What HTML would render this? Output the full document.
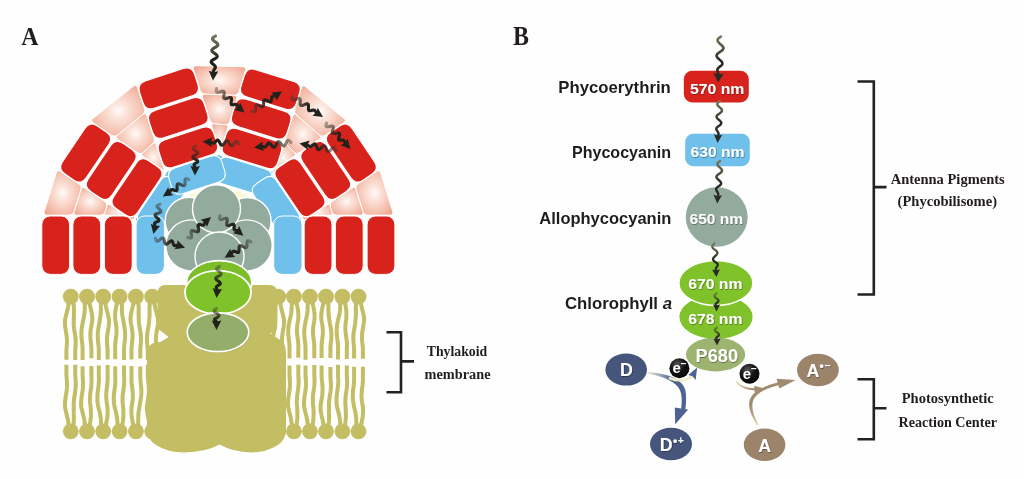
<!DOCTYPE html>
<html><head><meta charset="utf-8"><title>Phycobilisome energy transfer</title>
<style>
html,body{margin:0;padding:0;background:#fff;}
body{width:1024px;height:479px;overflow:hidden;font-family:"Liberation Sans",sans-serif;}
svg{display:block;}
</style></head><body>
<svg width="1024" height="479" viewBox="0 0 1024 479">
<defs>
<linearGradient id="g1" gradientUnits="userSpaceOnUse" x1="215.5" y1="36" x2="213" y2="80.5"><stop offset="0" stop-color="#77775f"/><stop offset=".3" stop-color="#4c4c3e"/><stop offset=".5" stop-color="#22221c"/><stop offset="1" stop-color="#22221c"/></linearGradient>
<linearGradient id="g2" gradientUnits="userSpaceOnUse" x1="216.5" y1="88.5" x2="244.5" y2="112.5"><stop offset="0" stop-color="#33332a" stop-opacity=".4"/><stop offset=".2" stop-color="#2c2c24" stop-opacity=".6"/><stop offset=".5" stop-color="#22221c"/><stop offset="1" stop-color="#22221c"/></linearGradient>
<linearGradient id="g3" gradientUnits="userSpaceOnUse" x1="251.5" y1="111" x2="282" y2="91.5"><stop offset="0" stop-color="#33332a" stop-opacity=".4"/><stop offset=".2" stop-color="#2c2c24" stop-opacity=".6"/><stop offset=".5" stop-color="#22221c"/><stop offset="1" stop-color="#22221c"/></linearGradient>
<linearGradient id="g4" gradientUnits="userSpaceOnUse" x1="292" y1="96.5" x2="323" y2="117"><stop offset="0" stop-color="#33332a" stop-opacity=".4"/><stop offset=".2" stop-color="#2c2c24" stop-opacity=".6"/><stop offset=".5" stop-color="#22221c"/><stop offset="1" stop-color="#22221c"/></linearGradient>
<linearGradient id="g5" gradientUnits="userSpaceOnUse" x1="326.5" y1="123" x2="350.5" y2="149"><stop offset="0" stop-color="#33332a" stop-opacity=".4"/><stop offset=".2" stop-color="#2c2c24" stop-opacity=".6"/><stop offset=".5" stop-color="#22221c"/><stop offset="1" stop-color="#22221c"/></linearGradient>
<linearGradient id="g6" gradientUnits="userSpaceOnUse" x1="336" y1="150.5" x2="299.5" y2="143.5"><stop offset="0" stop-color="#33332a" stop-opacity=".4"/><stop offset=".2" stop-color="#2c2c24" stop-opacity=".6"/><stop offset=".5" stop-color="#22221c"/><stop offset="1" stop-color="#22221c"/></linearGradient>
<linearGradient id="g7" gradientUnits="userSpaceOnUse" x1="291" y1="142.5" x2="254" y2="147.5"><stop offset="0" stop-color="#33332a" stop-opacity=".4"/><stop offset=".2" stop-color="#2c2c24" stop-opacity=".6"/><stop offset=".5" stop-color="#22221c"/><stop offset="1" stop-color="#22221c"/></linearGradient>
<linearGradient id="g8" gradientUnits="userSpaceOnUse" x1="239" y1="144" x2="202.5" y2="141.5"><stop offset="0" stop-color="#33332a" stop-opacity=".4"/><stop offset=".2" stop-color="#2c2c24" stop-opacity=".6"/><stop offset=".5" stop-color="#22221c"/><stop offset="1" stop-color="#22221c"/></linearGradient>
<linearGradient id="g9" gradientUnits="userSpaceOnUse" x1="195.5" y1="146" x2="195" y2="175.5"><stop offset="0" stop-color="#33332a" stop-opacity=".4"/><stop offset=".2" stop-color="#2c2c24" stop-opacity=".6"/><stop offset=".5" stop-color="#22221c"/><stop offset="1" stop-color="#22221c"/></linearGradient>
<linearGradient id="g10" gradientUnits="userSpaceOnUse" x1="189" y1="179.6" x2="162.8" y2="196.5"><stop offset="0" stop-color="#33332a" stop-opacity=".4"/><stop offset=".2" stop-color="#2c2c24" stop-opacity=".6"/><stop offset=".5" stop-color="#22221c"/><stop offset="1" stop-color="#22221c"/></linearGradient>
<linearGradient id="g11" gradientUnits="userSpaceOnUse" x1="160" y1="204.2" x2="153.4" y2="234"><stop offset="0" stop-color="#33332a" stop-opacity=".4"/><stop offset=".2" stop-color="#2c2c24" stop-opacity=".6"/><stop offset=".5" stop-color="#22221c"/><stop offset="1" stop-color="#22221c"/></linearGradient>
<linearGradient id="g12" gradientUnits="userSpaceOnUse" x1="155.4" y1="238.2" x2="185" y2="247.7"><stop offset="0" stop-color="#33332a" stop-opacity=".4"/><stop offset=".2" stop-color="#2c2c24" stop-opacity=".6"/><stop offset=".5" stop-color="#22221c"/><stop offset="1" stop-color="#22221c"/></linearGradient>
<linearGradient id="g13" gradientUnits="userSpaceOnUse" x1="187.8" y1="237.4" x2="211" y2="217"><stop offset="0" stop-color="#33332a" stop-opacity=".4"/><stop offset=".2" stop-color="#2c2c24" stop-opacity=".6"/><stop offset=".5" stop-color="#22221c"/><stop offset="1" stop-color="#22221c"/></linearGradient>
<linearGradient id="g14" gradientUnits="userSpaceOnUse" x1="219.8" y1="215.9" x2="243.4" y2="235.8"><stop offset="0" stop-color="#33332a" stop-opacity=".4"/><stop offset=".2" stop-color="#2c2c24" stop-opacity=".6"/><stop offset=".5" stop-color="#22221c"/><stop offset="1" stop-color="#22221c"/></linearGradient>
<linearGradient id="g15" gradientUnits="userSpaceOnUse" x1="251" y1="241.8" x2="224.6" y2="257.8"><stop offset="0" stop-color="#33332a" stop-opacity=".4"/><stop offset=".2" stop-color="#2c2c24" stop-opacity=".6"/><stop offset=".5" stop-color="#22221c"/><stop offset="1" stop-color="#22221c"/></linearGradient>
<linearGradient id="g16" gradientUnits="userSpaceOnUse" x1="219.3" y1="266.5" x2="216.5" y2="298"><stop offset="0" stop-color="#33332a" stop-opacity=".4"/><stop offset=".2" stop-color="#2c2c24" stop-opacity=".6"/><stop offset=".5" stop-color="#22221c"/><stop offset="1" stop-color="#22221c"/></linearGradient>
<linearGradient id="g17" gradientUnits="userSpaceOnUse" x1="216.5" y1="308.5" x2="216.5" y2="330"><stop offset="0" stop-color="#33332a" stop-opacity=".4"/><stop offset=".2" stop-color="#2c2c24" stop-opacity=".6"/><stop offset=".5" stop-color="#22221c"/><stop offset="1" stop-color="#22221c"/></linearGradient>
<linearGradient id="gb" gradientUnits="userSpaceOnUse" x1="647" y1="0" x2="672" y2="0"><stop offset="0" stop-color="#e9e7cf"/><stop offset=".45" stop-color="#a9b3bd"/><stop offset="1" stop-color="#4d6494"/></linearGradient>
<linearGradient id="gt" gradientUnits="userSpaceOnUse" x1="0" y1="427" x2="0" y2="404"><stop offset="0" stop-color="#e6dcb4"/><stop offset=".5" stop-color="#b8a683"/><stop offset="1" stop-color="#a08a70"/></linearGradient>
<linearGradient id="gt2" gradientUnits="userSpaceOnUse" x1="736" y1="0" x2="754" y2="0"><stop offset="0" stop-color="#e6dcb4"/><stop offset=".6" stop-color="#b29f7e"/><stop offset="1" stop-color="#a08a70"/></linearGradient>
<radialGradient id="eg" cx=".4" cy=".3" r=".75"><stop offset="0" stop-color="#5a5a5a"/><stop offset=".45" stop-color="#161616"/><stop offset="1" stop-color="#000"/></radialGradient>
<linearGradient id="g18" gradientUnits="userSpaceOnUse" x1="721" y1="36.5" x2="718" y2="82.6"><stop offset="0" stop-color="#77775f"/><stop offset=".3" stop-color="#4c4c3e"/><stop offset=".5" stop-color="#2b2b24"/><stop offset="1" stop-color="#2b2b24"/></linearGradient>
<linearGradient id="g19" gradientUnits="userSpaceOnUse" x1="720" y1="101" x2="717.6" y2="143"><stop offset="0" stop-color="#77775f"/><stop offset=".3" stop-color="#4c4c3e"/><stop offset=".5" stop-color="#2b2b24"/><stop offset="1" stop-color="#2b2b24"/></linearGradient>
<linearGradient id="g20" gradientUnits="userSpaceOnUse" x1="720.1" y1="161" x2="717.2" y2="203.4"><stop offset="0" stop-color="#77775f"/><stop offset=".3" stop-color="#4c4c3e"/><stop offset=".5" stop-color="#2b2b24"/><stop offset="1" stop-color="#2b2b24"/></linearGradient>
<linearGradient id="g21" gradientUnits="userSpaceOnUse" x1="714.5" y1="243.5" x2="716.4" y2="277"><stop offset="0" stop-color="#77775f"/><stop offset=".3" stop-color="#4c4c3e"/><stop offset=".5" stop-color="#2b2b24"/><stop offset="1" stop-color="#2b2b24"/></linearGradient>
<linearGradient id="g22" gradientUnits="userSpaceOnUse" x1="716.5" y1="293.5" x2="716.5" y2="311.5"><stop offset="0" stop-color="#33332a" stop-opacity=".4"/><stop offset=".2" stop-color="#2c2c24" stop-opacity=".6"/><stop offset=".5" stop-color="#2b2b24"/><stop offset="1" stop-color="#2b2b24"/></linearGradient>
<linearGradient id="g23" gradientUnits="userSpaceOnUse" x1="717" y1="327.5" x2="717" y2="345.5"><stop offset="0" stop-color="#33332a" stop-opacity=".4"/><stop offset=".2" stop-color="#2c2c24" stop-opacity=".6"/><stop offset=".5" stop-color="#2b2b24"/><stop offset="1" stop-color="#2b2b24"/></linearGradient>
<radialGradient id="pk" cx=".5" cy=".5" r=".62"><stop offset="0" stop-color="#fffaf7"/><stop offset=".3" stop-color="#fbe0d6"/><stop offset=".7" stop-color="#f5c2b1"/><stop offset="1" stop-color="#f0a892"/></radialGradient>
<filter id="ts" x="-10%" y="-20%" width="120%" height="150%"><feDropShadow dx=".6" dy=".8" stdDeviation=".7" flood-color="#000" flood-opacity=".45"/></filter>
<filter id="bl" x="-5%" y="-5%" width="110%" height="110%"><feGaussianBlur stdDeviation=".55"/></filter>
</defs>
<rect width="1024" height="479" fill="#fefefe"/>
<g filter="url(#bl)">
<g id="membrane">
<circle cx="70.8" cy="296.6" r="7.9" fill="#c3bd63"/>
<path d="M68.8 300L68.68 302.13L68.48 304.27L68.17 306.4L67.76 308.54L67.26 310.67L66.71 312.8L66.14 314.94L65.6 317.07L65.13 319.21L64.94 321.34L64.95 323.47L65.09 325.61L65.34 327.74L65.66 329.88L66.02 332.01L66.36 334.14L66.66 336.28L66.86 338.41L66.96 340.55L66.95 342.68L66.84 344.81L66.67 346.95L66.47 349.08L66.4 351.22L66.4 353.35L66.4 355.48L66.4 357.62L66.4 359.75" fill="none" stroke="#c3bd63" stroke-width="4" stroke-linejoin="round"/>
<path d="M72.8 300L73.21 302.14L73.55 304.28L73.79 306.42L73.92 308.56L73.96 310.7L73.93 312.84L73.86 314.98L73.82 317.12L73.82 319.26L73.75 321.4L73.72 323.55L73.8 325.69L74.01 327.83L74.3 329.97L74.64 332.11L74.99 334.25L75.3 336.39L75.54 338.53L75.67 340.67L75.69 342.81L75.62 344.95L75.46 347.09L75.27 349.23L75.2 351.37L75.2 353.51L75.2 355.65L75.2 357.79L75.2 359.93" fill="none" stroke="#c3bd63" stroke-width="4" stroke-linejoin="round"/>
<circle cx="70.8" cy="431.3" r="7.9" fill="#c3bd63"/>
<path d="M68.8 428L68.67 425.74L68.45 423.49L68.13 421.23L67.7 418.98L67.19 416.72L66.64 414.46L66.07 412.21L65.55 409.95L65.11 407.7L64.94 405.44L64.99 403.18L65.15 400.93L65.42 398.67L65.76 396.42L66.12 394.16L66.46 391.9L66.74 389.65L66.93 387.39L67.01 385.14L66.97 382.88L66.85 380.63L66.67 378.37L66.46 376.11L66.4 373.86L66.4 371.6L66.4 369.35L66.4 367.09L66.4 364.83" fill="none" stroke="#c3bd63" stroke-width="4" stroke-linejoin="round"/>
<path d="M72.8 428L73.2 425.74L73.51 423.48L73.72 421.23L73.82 418.97L73.84 416.71L73.8 414.45L73.75 412.2L73.72 409.94L73.76 407.68L73.74 405.42L73.75 403.17L73.88 400.91L74.13 398.65L74.45 396.39L74.8 394.14L75.15 391.88L75.44 389.62L75.65 387.36L75.75 385.1L75.75 382.85L75.64 380.59L75.47 378.33L75.27 376.07L75.2 373.82L75.2 371.56L75.2 369.3L75.2 367.04L75.2 364.79" fill="none" stroke="#c3bd63" stroke-width="4" stroke-linejoin="round"/>
<circle cx="87" cy="296.6" r="7.9" fill="#c3bd63"/>
<path d="M85 300L84.85 302.14L84.78 304.28L84.75 306.42L84.72 308.56L84.65 310.69L84.49 312.83L84.23 314.97L83.84 317.11L83.35 319.25L82.94 321.39L82.56 323.53L82.18 325.67L81.84 327.81L81.58 329.95L81.42 332.08L81.39 334.22L81.47 336.36L81.65 338.5L81.88 340.64L82.14 342.78L82.36 344.92L82.53 347.06L82.6 349.2L82.6 351.34L82.6 353.47L82.6 355.61L82.6 357.75L82.6 359.89" fill="none" stroke="#c3bd63" stroke-width="4" stroke-linejoin="round"/>
<path d="M89 300L89.3 302.08L89.7 304.16L90.17 306.24L90.68 308.31L91.18 310.39L91.63 312.47L91.99 314.55L92.24 316.63L92.37 318.71L92.22 320.79L91.89 322.86L91.52 324.94L91.13 327.02L90.79 329.1L90.53 331.18L90.38 333.26L90.34 335.33L90.42 337.41L90.58 339.49L90.8 341.57L91.04 343.65L91.24 345.73L91.38 347.81L91.4 349.88L91.4 351.96L91.4 354.04L91.4 356.12L91.4 358.2" fill="none" stroke="#c3bd63" stroke-width="4" stroke-linejoin="round"/>
<circle cx="87" cy="431.3" r="7.9" fill="#c3bd63"/>
<path d="M85 428L84.91 425.79L84.76 423.58L84.51 421.37L84.15 419.16L83.69 416.95L83.15 414.74L82.57 412.54L82 410.33L81.46 408.12L81.18 405.91L81.11 403.7L81.15 401.49L81.32 399.28L81.58 397.07L81.91 394.86L82.26 392.65L82.58 390.44L82.83 388.23L82.99 386.03L83.05 383.82L82.99 381.61L82.86 379.4L82.67 377.19L82.6 374.98L82.6 372.77L82.6 370.56L82.6 368.35L82.6 366.14" fill="none" stroke="#c3bd63" stroke-width="4" stroke-linejoin="round"/>
<path d="M89 428L89.46 425.79L89.91 423.57L90.31 421.36L90.63 419.15L90.84 416.93L90.94 414.72L90.94 412.51L90.88 410.29L90.77 408.08L90.51 405.87L90.22 403.65L90.02 401.44L89.94 399.23L89.98 397.01L90.14 394.8L90.39 392.59L90.69 390.37L91 388.16L91.26 385.95L91.46 383.73L91.56 381.52L91.55 379.31L91.45 377.09L91.4 374.88L91.4 372.67L91.4 370.45L91.4 368.24L91.4 366.03" fill="none" stroke="#c3bd63" stroke-width="4" stroke-linejoin="round"/>
<circle cx="103.2" cy="296.6" r="7.9" fill="#c3bd63"/>
<path d="M101.2 300L101 302.14L100.88 304.29L100.84 306.43L100.83 308.57L100.81 310.71L100.74 312.86L100.58 315L100.3 317.14L99.91 319.28L99.57 321.43L99.24 323.57L98.86 325.71L98.48 327.85L98.15 330L97.89 332.14L97.75 334.28L97.73 336.42L97.82 338.57L97.99 340.71L98.21 342.85L98.45 344.99L98.65 347.14L98.78 349.28L98.8 351.42L98.8 353.57L98.8 355.71L98.8 357.85L98.8 359.99" fill="none" stroke="#c3bd63" stroke-width="4" stroke-linejoin="round"/>
<path d="M105.2 300L105.34 302.12L105.58 304.25L105.93 306.37L106.37 308.49L106.88 310.61L107.44 312.74L107.99 314.86L108.49 316.98L108.91 319.1L109.04 321.23L108.97 323.35L108.77 325.47L108.48 327.59L108.13 329.72L107.77 331.84L107.43 333.96L107.17 336.08L107 338.21L106.95 340.33L107 342.45L107.14 344.58L107.33 346.7L107.54 348.82L107.6 350.94L107.6 353.07L107.6 355.19L107.6 357.31L107.6 359.43" fill="none" stroke="#c3bd63" stroke-width="4" stroke-linejoin="round"/>
<circle cx="103.2" cy="431.3" r="7.9" fill="#c3bd63"/>
<path d="M101.2 428L101.14 425.76L101.08 423.53L100.99 421.29L100.83 419.06L100.56 416.82L100.18 414.59L99.7 412.35L99.13 410.12L98.52 407.88L98.07 405.65L97.75 403.41L97.51 401.18L97.38 398.94L97.37 396.7L97.49 394.47L97.7 392.23L97.98 390L98.28 387.76L98.56 385.53L98.78 383.29L98.9 381.06L98.92 378.82L98.85 376.59L98.8 374.35L98.8 372.12L98.8 369.88L98.8 367.64L98.8 365.41" fill="none" stroke="#c3bd63" stroke-width="4" stroke-linejoin="round"/>
<path d="M105.2 428L105.63 425.75L106.1 423.51L106.56 421.26L106.97 419.02L107.3 416.77L107.51 414.52L107.61 412.28L107.61 410.03L107.53 407.79L107.25 405.54L106.88 403.3L106.57 401.05L106.34 398.8L106.23 396.56L106.25 394.31L106.38 392.07L106.6 389.82L106.87 387.57L107.15 385.33L107.4 383.08L107.57 380.84L107.65 378.59L107.63 376.35L107.6 374.1L107.6 371.85L107.6 369.61L107.6 367.36L107.6 365.12" fill="none" stroke="#c3bd63" stroke-width="4" stroke-linejoin="round"/>
<circle cx="119.6" cy="296.6" r="7.9" fill="#c3bd63"/>
<path d="M117.6 300L117.17 302.12L116.71 304.23L116.24 306.35L115.82 308.46L115.48 310.58L115.25 312.7L115.13 314.81L115.12 316.93L115.19 319.04L115.47 321.16L115.84 323.27L116.17 325.39L116.41 327.51L116.54 329.62L116.55 331.74L116.43 333.85L116.23 335.97L115.97 338.09L115.69 340.2L115.44 342.32L115.25 344.43L115.16 346.55L115.17 348.66L115.2 350.78L115.2 352.9L115.2 355.01L115.2 357.13L115.2 359.24" fill="none" stroke="#c3bd63" stroke-width="4" stroke-linejoin="round"/>
<path d="M121.6 300L121.77 302.14L121.86 304.28L121.9 306.42L121.91 308.57L121.96 310.71L122.07 312.85L122.28 314.99L122.61 317.13L123.06 319.27L123.43 321.41L123.79 323.55L124.18 325.7L124.54 327.84L124.85 329.98L125.05 332.12L125.14 334.26L125.11 336.4L124.98 338.54L124.78 340.68L124.53 342.83L124.3 344.97L124.11 347.11L124.01 349.25L124 351.39L124 353.53L124 355.67L124 357.81L124 359.96" fill="none" stroke="#c3bd63" stroke-width="4" stroke-linejoin="round"/>
<circle cx="119.6" cy="431.3" r="7.9" fill="#c3bd63"/>
<path d="M117.6 428L117.54 425.8L117.48 423.59L117.38 421.39L117.2 419.18L116.92 416.98L116.52 414.77L116.02 412.57L115.45 410.36L114.83 408.16L114.39 405.95L114.08 403.75L113.86 401.54L113.76 399.34L113.78 397.13L113.91 394.93L114.14 392.72L114.43 390.52L114.74 388.31L115.01 386.11L115.22 383.9L115.33 381.7L115.34 379.49L115.25 377.29L115.2 375.08L115.2 372.88L115.2 370.67L115.2 368.47L115.2 366.26" fill="none" stroke="#c3bd63" stroke-width="4" stroke-linejoin="round"/>
<path d="M121.6 428L122.06 425.77L122.5 423.53L122.88 421.3L123.16 419.06L123.34 416.83L123.42 414.59L123.4 412.36L123.32 410.12L123.22 407.89L122.97 405.65L122.72 403.42L122.56 401.18L122.52 398.95L122.61 396.71L122.81 394.48L123.09 392.24L123.4 390.01L123.71 387.77L123.97 385.54L124.14 383.3L124.21 381.07L124.18 378.83L124.06 376.6L124 374.36L124 372.13L124 369.89L124 367.66L124 365.42" fill="none" stroke="#c3bd63" stroke-width="4" stroke-linejoin="round"/>
<circle cx="135.9" cy="296.6" r="7.9" fill="#c3bd63"/>
<path d="M133.9 300L133.61 302.12L133.21 304.24L132.75 306.37L132.24 308.49L131.74 310.61L131.28 312.73L130.9 314.85L130.64 316.97L130.5 319.1L130.64 321.22L130.96 323.34L131.33 325.46L131.71 327.58L132.06 329.71L132.33 331.83L132.49 333.95L132.54 336.07L132.48 338.19L132.32 340.31L132.1 342.44L131.87 344.56L131.67 346.68L131.53 348.8L131.5 350.92L131.5 353.05L131.5 355.17L131.5 357.29L131.5 359.41" fill="none" stroke="#c3bd63" stroke-width="4" stroke-linejoin="round"/>
<path d="M137.9 300L138.25 302.09L138.5 304.18L138.65 306.27L138.7 308.36L138.69 310.45L138.65 312.53L138.63 314.62L138.67 316.71L138.81 318.8L138.89 320.89L139.02 322.98L139.25 325.07L139.57 327.16L139.94 329.25L140.3 331.34L140.62 333.42L140.86 335.51L140.99 337.6L141.01 339.69L140.93 341.78L140.76 343.87L140.56 345.96L140.36 348.05L140.3 350.14L140.3 352.23L140.3 354.31L140.3 356.4L140.3 358.49" fill="none" stroke="#c3bd63" stroke-width="4" stroke-linejoin="round"/>
<circle cx="135.9" cy="431.3" r="7.9" fill="#c3bd63"/>
<path d="M133.9 428L133.47 425.78L133 423.56L132.54 421.35L132.12 419.13L131.78 416.91L131.55 414.69L131.43 412.48L131.42 410.26L131.5 408.04L131.78 405.82L132.15 403.61L132.48 401.39L132.72 399.17L132.84 396.95L132.85 394.74L132.73 392.52L132.53 390.3L132.26 388.08L131.98 385.87L131.73 383.65L131.55 381.43L131.46 379.21L131.47 377L131.5 374.78L131.5 372.56L131.5 370.34L131.5 368.13L131.5 365.91" fill="none" stroke="#c3bd63" stroke-width="4" stroke-linejoin="round"/>
<path d="M137.9 428L138.1 425.8L138.2 423.6L138.24 421.4L138.25 419.2L138.28 417L138.36 414.8L138.54 412.59L138.83 410.39L139.24 408.19L139.59 405.99L139.93 403.79L140.31 401.59L140.68 399.39L141.01 397.19L141.25 394.99L141.38 392.79L141.39 390.59L141.29 388.39L141.1 386.18L140.87 383.98L140.64 381.78L140.44 379.58L140.32 377.38L140.3 375.18L140.3 372.98L140.3 370.78L140.3 368.58L140.3 366.38" fill="none" stroke="#c3bd63" stroke-width="4" stroke-linejoin="round"/>
<circle cx="152.2" cy="296.6" r="7.9" fill="#c3bd63"/>
<path d="M150.2 300L149.89 302.14L149.69 304.27L149.59 306.41L149.56 308.55L149.58 310.68L149.6 312.82L149.57 314.96L149.46 317.09L149.25 319.23L149.08 321.37L148.88 323.5L148.58 325.64L148.22 327.78L147.84 329.91L147.49 332.05L147.21 334.19L147.03 336.32L146.97 338.46L147.01 340.6L147.15 342.73L147.35 344.87L147.56 347.01L147.75 349.14L147.8 351.28L147.8 353.42L147.8 355.55L147.8 357.69L147.8 359.83" fill="none" stroke="#c3bd63" stroke-width="4" stroke-linejoin="round"/>
<path d="M154.2 300L154.35 302.08L154.59 304.17L154.94 306.25L155.39 308.34L155.91 310.42L156.46 312.51L157.01 314.59L157.51 316.67L157.92 318.76L158.04 320.84L157.95 322.93L157.74 325.01L157.44 327.1L157.09 329.18L156.72 331.26L156.39 333.35L156.13 335.43L155.98 337.52L155.93 339.6L155.99 341.68L156.14 343.77L156.33 345.85L156.54 347.94L156.6 350.02L156.6 352.11L156.6 354.19L156.6 356.27L156.6 358.36" fill="none" stroke="#c3bd63" stroke-width="4" stroke-linejoin="round"/>
<circle cx="152.2" cy="431.3" r="7.9" fill="#c3bd63"/>
<path d="M150.2 428L149.89 425.74L149.49 423.49L149.02 421.23L148.51 418.97L148.02 416.71L147.57 414.46L147.22 412.2L146.98 409.94L146.85 407.68L147.01 405.43L147.35 403.17L147.72 400.91L148.1 398.65L148.44 396.4L148.69 394.14L148.84 391.88L148.87 389.62L148.78 387.37L148.61 385.11L148.39 382.85L148.15 380.59L147.95 378.34L147.82 376.08L147.8 373.82L147.8 371.56L147.8 369.31L147.8 367.05L147.8 364.79" fill="none" stroke="#c3bd63" stroke-width="4" stroke-linejoin="round"/>
<path d="M154.2 428L154.43 425.8L154.56 423.6L154.61 421.41L154.62 419.21L154.62 417.01L154.67 414.81L154.79 412.61L155.03 410.42L155.38 408.22L155.68 406.02L155.99 403.82L156.35 401.63L156.74 399.43L157.09 397.23L157.37 395.03L157.55 392.83L157.62 390.64L157.57 388.44L157.42 386.24L157.22 384.04L156.99 381.84L156.78 379.65L156.63 377.45L156.6 375.25L156.6 373.05L156.6 370.85L156.6 368.66L156.6 366.46" fill="none" stroke="#c3bd63" stroke-width="4" stroke-linejoin="round"/>
<circle cx="278.2" cy="296.6" r="7.9" fill="#c3bd63"/>
<path d="M276.2 300L275.84 302.12L275.58 304.24L275.42 306.36L275.35 308.48L275.36 310.6L275.4 312.72L275.43 314.84L275.4 316.97L275.29 319.09L275.23 321.21L275.13 323.33L274.92 325.45L274.61 327.57L274.26 329.69L273.89 331.81L273.56 333.93L273.31 336.05L273.16 338.17L273.12 340.29L273.19 342.41L273.34 344.53L273.54 346.65L273.74 348.78L273.8 350.9L273.8 353.02L273.8 355.14L273.8 357.26L273.8 359.38" fill="none" stroke="#c3bd63" stroke-width="4" stroke-linejoin="round"/>
<path d="M280.2 300L280.33 302.1L280.55 304.2L280.88 306.29L281.3 308.39L281.81 310.49L282.37 312.59L282.93 314.68L283.45 316.78L283.9 318.88L284.06 320.98L284.01 323.07L283.84 325.17L283.57 327.27L283.24 329.37L282.88 331.46L282.53 333.56L282.25 335.66L282.07 337.76L281.99 339.85L282.02 341.95L282.15 344.05L282.33 346.15L282.54 348.24L282.6 350.34L282.6 352.44L282.6 354.54L282.6 356.64L282.6 358.73" fill="none" stroke="#c3bd63" stroke-width="4" stroke-linejoin="round"/>
<circle cx="278.2" cy="431.3" r="7.9" fill="#c3bd63"/>
<path d="M276.2 428L275.87 425.81L275.45 423.62L274.97 421.42L274.47 419.23L273.99 417.04L273.58 414.85L273.27 412.66L273.07 410.47L272.99 408.27L273.19 406.08L273.54 403.89L273.93 401.7L274.3 399.51L274.61 397.32L274.82 395.12L274.92 392.93L274.91 390.74L274.79 388.55L274.58 386.36L274.35 384.17L274.11 381.97L273.92 379.78L273.81 377.59L273.8 375.4L273.8 373.21L273.8 371.02L273.8 368.82L273.8 366.63" fill="none" stroke="#c3bd63" stroke-width="4" stroke-linejoin="round"/>
<path d="M280.2 428L280.45 425.78L280.59 423.56L280.65 421.33L280.66 419.11L280.66 416.89L280.69 414.67L280.79 412.45L280.99 410.23L281.31 408L281.58 405.78L281.87 403.56L282.23 401.34L282.61 399.12L282.97 396.9L283.27 394.67L283.48 392.45L283.57 390.23L283.55 388.01L283.43 385.79L283.23 383.56L283.01 381.34L282.79 379.12L282.64 376.9L282.6 374.68L282.6 372.46L282.6 370.23L282.6 368.01L282.6 365.79" fill="none" stroke="#c3bd63" stroke-width="4" stroke-linejoin="round"/>
<circle cx="293.9" cy="296.6" r="7.9" fill="#c3bd63"/>
<path d="M291.9 300L291.79 302.09L291.73 304.18L291.7 306.27L291.64 308.36L291.52 310.44L291.3 312.53L290.97 314.62L290.52 316.71L289.97 318.8L289.53 320.89L289.15 322.98L288.79 325.07L288.49 327.15L288.29 329.24L288.21 331.33L288.25 333.42L288.4 335.51L288.62 337.6L288.88 339.69L289.14 341.78L289.35 343.86L289.48 345.95L289.51 348.04L289.5 350.13L289.5 352.22L289.5 354.31L289.5 356.4L289.5 358.49" fill="none" stroke="#c3bd63" stroke-width="4" stroke-linejoin="round"/>
<path d="M295.9 300L296.33 302.06L296.8 304.13L297.26 306.19L297.68 308.26L298.02 310.32L298.25 312.39L298.37 314.45L298.38 316.52L298.31 318.58L298.02 320.65L297.65 322.71L297.33 324.78L297.09 326.84L296.96 328.91L296.95 330.97L297.07 333.04L297.27 335.1L297.53 337.17L297.81 339.23L298.06 341.3L298.25 343.36L298.34 345.43L298.33 347.49L298.3 349.56L298.3 351.62L298.3 353.69L298.3 355.75L298.3 357.82" fill="none" stroke="#c3bd63" stroke-width="4" stroke-linejoin="round"/>
<circle cx="293.9" cy="431.3" r="7.9" fill="#c3bd63"/>
<path d="M291.9 428L291.81 425.77L291.65 423.54L291.39 421.31L291.02 419.08L290.56 416.85L290.02 414.63L289.44 412.4L288.87 410.17L288.34 407.94L288.07 405.71L288.01 403.48L288.07 401.25L288.24 399.02L288.52 396.79L288.85 394.56L289.2 392.34L289.52 390.11L289.76 387.88L289.92 385.65L289.96 383.42L289.9 381.19L289.76 378.96L289.57 376.73L289.5 374.5L289.5 372.27L289.5 370.05L289.5 367.82L289.5 365.59" fill="none" stroke="#c3bd63" stroke-width="4" stroke-linejoin="round"/>
<path d="M295.9 428L296.35 425.74L296.74 423.48L297.05 421.22L297.26 418.96L297.36 416.71L297.37 414.45L297.31 412.19L297.23 409.93L297.17 407.67L297 405.41L296.84 403.15L296.8 400.89L296.89 398.63L297.09 396.38L297.38 394.12L297.71 391.86L298.04 389.6L298.32 387.34L298.53 385.08L298.63 382.82L298.63 380.56L298.53 378.31L298.37 376.05L298.3 373.79L298.3 371.53L298.3 369.27L298.3 367.01L298.3 364.75" fill="none" stroke="#c3bd63" stroke-width="4" stroke-linejoin="round"/>
<circle cx="309.9" cy="296.6" r="7.9" fill="#c3bd63"/>
<path d="M307.9 300L307.78 302.14L307.72 304.27L307.69 306.41L307.64 308.55L307.53 310.68L307.33 312.82L307.02 314.96L306.59 317.09L306.05 319.23L305.62 321.37L305.24 323.5L304.87 325.64L304.56 327.78L304.34 329.92L304.24 332.05L304.25 334.19L304.38 336.33L304.6 338.46L304.85 340.6L305.11 342.74L305.33 344.87L305.47 347.01L305.51 349.15L305.5 351.28L305.5 353.42L305.5 355.56L305.5 357.69L305.5 359.83" fill="none" stroke="#c3bd63" stroke-width="4" stroke-linejoin="round"/>
<path d="M311.9 300L312.3 302.08L312.77 304.17L313.25 306.25L313.7 308.33L314.08 310.42L314.37 312.5L314.55 314.58L314.61 316.67L314.57 318.75L314.3 320.83L313.92 322.92L313.56 325L313.27 327.08L313.07 329.17L313 331.25L313.05 333.33L313.2 335.42L313.43 337.5L313.7 339.58L313.96 341.67L314.16 343.75L314.29 345.83L314.31 347.92L314.3 350L314.3 352.08L314.3 354.17L314.3 356.25L314.3 358.33" fill="none" stroke="#c3bd63" stroke-width="4" stroke-linejoin="round"/>
<circle cx="309.9" cy="431.3" r="7.9" fill="#c3bd63"/>
<path d="M307.9 428L307.81 425.77L307.64 423.54L307.38 421.31L307.01 419.09L306.54 416.86L306 414.63L305.42 412.4L304.85 410.17L304.33 407.94L304.07 405.71L304.01 403.49L304.08 401.26L304.26 399.03L304.54 396.8L304.87 394.57L305.22 392.34L305.54 390.11L305.79 387.89L305.93 385.66L305.97 383.43L305.91 381.2L305.76 378.97L305.57 376.74L305.5 374.51L305.5 372.28L305.5 370.06L305.5 367.83L305.5 365.6" fill="none" stroke="#c3bd63" stroke-width="4" stroke-linejoin="round"/>
<path d="M311.9 428L312.36 425.75L312.79 423.49L313.15 421.24L313.42 418.98L313.57 416.73L313.62 414.48L313.59 412.22L313.51 409.97L313.41 407.71L313.19 405.46L312.95 403.2L312.83 400.95L312.83 398.7L312.95 396.44L313.17 394.19L313.47 391.93L313.79 389.68L314.09 387.43L314.34 385.17L314.49 382.92L314.55 380.66L314.5 378.41L314.36 376.16L314.3 373.9L314.3 371.65L314.3 369.39L314.3 367.14L314.3 364.89" fill="none" stroke="#c3bd63" stroke-width="4" stroke-linejoin="round"/>
<circle cx="326" cy="296.6" r="7.9" fill="#c3bd63"/>
<path d="M324 300L323.6 302.07L323.14 304.15L322.66 306.22L322.2 308.3L321.81 310.37L321.51 312.44L321.33 314.52L321.26 316.59L321.3 318.66L321.57 320.74L321.95 322.81L322.31 324.89L322.61 326.96L322.81 329.03L322.89 331.11L322.85 333.18L322.7 335.26L322.48 337.33L322.22 339.4L321.96 341.48L321.75 343.55L321.62 345.63L321.59 347.7L321.6 349.77L321.6 351.85L321.6 353.92L321.6 355.99L321.6 358.07" fill="none" stroke="#c3bd63" stroke-width="4" stroke-linejoin="round"/>
<path d="M328 300L328.23 302.08L328.36 304.15L328.41 306.23L328.42 308.3L328.42 310.38L328.47 312.45L328.6 314.53L328.83 316.6L329.19 318.68L329.49 320.75L329.8 322.83L330.17 324.91L330.55 326.98L330.9 329.06L331.18 331.13L331.36 333.21L331.42 335.28L331.37 337.36L331.22 339.43L331.01 341.51L330.78 343.58L330.58 345.66L330.43 347.74L330.4 349.81L330.4 351.89L330.4 353.96L330.4 356.04L330.4 358.11" fill="none" stroke="#c3bd63" stroke-width="4" stroke-linejoin="round"/>
<circle cx="326" cy="431.3" r="7.9" fill="#c3bd63"/>
<path d="M324 428L323.73 425.77L323.36 423.54L322.9 421.31L322.4 419.08L321.88 416.84L321.4 414.61L320.99 412.38L320.68 410.15L320.5 407.92L320.6 405.69L320.89 403.46L321.25 401.23L321.64 398.99L322 396.76L322.3 394.53L322.5 392.3L322.58 390.07L322.55 387.84L322.43 385.61L322.23 383.38L322 381.14L321.79 378.91L321.63 376.68L321.6 374.45L321.6 372.22L321.6 369.99L321.6 367.76L321.6 365.53" fill="none" stroke="#c3bd63" stroke-width="4" stroke-linejoin="round"/>
<path d="M328 428L328.4 425.82L328.72 423.64L328.94 421.45L329.06 419.27L329.08 417.09L329.04 414.91L328.98 412.73L328.95 410.54L328.98 408.36L328.94 406.18L328.94 404L329.06 401.82L329.29 399.63L329.6 397.45L329.95 395.27L330.3 393.09L330.6 390.91L330.82 388.72L330.93 386.54L330.93 384.36L330.83 382.18L330.67 380L330.47 377.81L330.4 375.63L330.4 373.45L330.4 371.27L330.4 369.08L330.4 366.9" fill="none" stroke="#c3bd63" stroke-width="4" stroke-linejoin="round"/>
<circle cx="342.4" cy="296.6" r="7.9" fill="#c3bd63"/>
<path d="M340.4 300L340.31 302.13L340.26 304.25L340.22 306.38L340.13 308.51L339.95 310.64L339.68 312.76L339.28 314.89L338.78 317.02L338.2 319.15L337.74 321.27L337.37 323.4L337.04 325.53L336.8 327.66L336.67 329.78L336.66 331.91L336.76 334.04L336.96 336.17L337.23 338.29L337.5 340.42L337.76 342.55L337.94 344.67L338.04 346.8L338.03 348.93L338 351.06L338 353.18L338 355.31L338 357.44L338 359.57" fill="none" stroke="#c3bd63" stroke-width="4" stroke-linejoin="round"/>
<path d="M344.4 300L344.86 302.11L345.31 304.21L345.72 306.32L346.05 308.43L346.28 310.53L346.39 312.64L346.41 314.75L346.34 316.85L346.24 318.96L345.97 321.07L345.67 323.17L345.45 325.28L345.35 327.39L345.38 329.49L345.52 331.6L345.75 333.71L346.05 335.81L346.35 337.92L346.62 340.03L346.83 342.13L346.94 344.24L346.94 346.35L346.85 348.45L346.8 350.56L346.8 352.66L346.8 354.77L346.8 356.88L346.8 358.98" fill="none" stroke="#c3bd63" stroke-width="4" stroke-linejoin="round"/>
<circle cx="342.4" cy="431.3" r="7.9" fill="#c3bd63"/>
<path d="M340.4 428L340.34 425.74L340.25 423.48L340.09 421.22L339.82 418.96L339.45 416.7L338.98 414.44L338.43 412.18L337.83 409.92L337.22 407.66L336.84 405.4L336.62 403.14L336.52 400.88L336.54 398.62L336.68 396.35L336.91 394.09L337.22 391.83L337.54 389.57L337.84 387.31L338.08 385.05L338.23 382.79L338.27 380.53L338.21 378.27L338.06 376.01L338 373.75L338 371.49L338 369.23L338 366.97L338 364.71" fill="none" stroke="#c3bd63" stroke-width="4" stroke-linejoin="round"/>
<path d="M344.4 428L344.85 425.77L345.24 423.54L345.56 421.31L345.77 419.08L345.87 416.85L345.87 414.62L345.82 412.39L345.73 410.16L345.67 407.93L345.5 405.7L345.34 403.47L345.3 401.24L345.39 399.01L345.59 396.77L345.87 394.54L346.2 392.31L346.53 390.08L346.82 387.85L347.03 385.62L347.13 383.39L347.13 381.16L347.03 378.93L346.86 376.7L346.8 374.47L346.8 372.24L346.8 370.01L346.8 367.78L346.8 365.55" fill="none" stroke="#c3bd63" stroke-width="4" stroke-linejoin="round"/>
<circle cx="358.5" cy="296.6" r="7.9" fill="#c3bd63"/>
<path d="M356.5 300L356.19 302.09L355.97 304.18L355.86 306.27L355.83 308.36L355.85 310.45L355.87 312.54L355.86 314.63L355.76 316.72L355.56 318.81L355.41 320.9L355.22 322.99L354.93 325.08L354.58 327.17L354.21 329.26L353.85 331.35L353.57 333.44L353.37 335.53L353.29 337.61L353.33 339.7L353.45 341.79L353.64 343.88L353.86 345.97L354.05 348.06L354.1 350.15L354.1 352.24L354.1 354.33L354.1 356.42L354.1 358.51" fill="none" stroke="#c3bd63" stroke-width="4" stroke-linejoin="round"/>
<path d="M360.5 300L360.74 302.1L361.08 304.19L361.51 306.29L362.01 308.38L362.54 310.48L363.05 312.57L363.51 314.67L363.87 316.77L364.11 318.86L364.06 320.96L363.81 323.05L363.48 325.15L363.11 327.24L362.73 329.34L362.4 331.44L362.16 333.53L362.02 335.63L362 337.72L362.08 339.82L362.25 341.91L362.47 344.01L362.68 346.11L362.86 348.2L362.9 350.3L362.9 352.39L362.9 354.49L362.9 356.58L362.9 358.68" fill="none" stroke="#c3bd63" stroke-width="4" stroke-linejoin="round"/>
<circle cx="358.5" cy="431.3" r="7.9" fill="#c3bd63"/>
<path d="M356.5 428L356.4 425.81L356.35 423.63L356.31 421.44L356.24 419.25L356.08 417.07L355.83 414.88L355.46 412.69L354.98 410.51L354.41 408.32L353.96 406.13L353.58 403.94L353.24 401.76L352.97 399.57L352.81 397.38L352.77 395.2L352.85 393.01L353.03 390.82L353.28 388.64L353.56 386.45L353.81 384.26L354.01 382.08L354.11 379.89L354.12 377.7L354.1 375.52L354.1 373.33L354.1 371.14L354.1 368.96L354.1 366.77" fill="none" stroke="#c3bd63" stroke-width="4" stroke-linejoin="round"/>
<path d="M360.5 428L360.92 425.81L361.39 423.62L361.86 421.43L362.29 419.24L362.65 417.06L362.9 414.87L363.04 412.68L363.07 410.49L363.01 408.3L362.72 406.11L362.35 403.92L362.01 401.73L361.75 399.54L361.6 397.36L361.57 395.17L361.65 392.98L361.84 390.79L362.09 388.6L362.37 386.41L362.62 384.22L362.82 382.03L362.92 379.84L362.92 377.66L362.9 375.47L362.9 373.28L362.9 371.09L362.9 368.9L362.9 366.71" fill="none" stroke="#c3bd63" stroke-width="4" stroke-linejoin="round"/>
<path d="M157.5 294 Q157.5 285 166 285 L269 285 Q277.2 285 277.2 294 L277.2 327 Q277.2 331 274 332 L270 333.2 L274.5 336.5 L279 339 Q286 343 286 353 L286 428 Q286 440 278 445 Q266 452.5 251 452.5 Q233 452 219.5 444.5 Q206 452 184 452.5 Q168 452.5 156 445 Q147 440 147 428 L147 353 Q147 345 155 342.5 L160.4 342 L168.6 337 L160.4 330.6 L158.5 330 Q157.5 329 157.5 325 Z" fill="#c3bd63"/>
</g>
<g id="pbs">
<path d="M47.1 215.2Q43.1 215.2 44.28 211.38L56.12 173.13Q57.3 169.31 60.62 171.55L78.77 183.79Q82.09 186.03 80.9 189.85L74.19 211.38Q73 215.2 69 215.2Z" fill="url(#pk)" stroke="#fff" stroke-width="1"/>
<path d="M77 215.2Q73 215.2 74.19 211.38L80.9 189.85Q82.09 186.03 85.41 188.27L104.47 201.13Q107.79 203.36 106.57 207.17L105.22 211.39Q104 215.2 100 215.2Z" fill="url(#pk)" stroke="#fff" stroke-width="1"/>
<path d="M106.5 215.2Q104 215.2 104.76 212.82L107.03 205.74Q107.79 203.36 109.86 204.76L131.42 219.3Q133.49 220.7 134.15 218.29L134.34 217.61Q135 215.2 132.5 215.2Z" fill="url(#pk)" stroke="#fff" stroke-width="1"/>
<path d="M93.39 122.96Q90.07 120.73 93.2 118.23L133.31 86.23Q136.43 83.74 137.67 87.54L144.44 108.37Q145.67 112.18 142.58 114.71L117.95 134.91Q114.86 137.45 111.54 135.21Z" fill="url(#pk)" stroke="#fff" stroke-width="1"/>
<path d="M118.18 139.68Q114.86 137.45 117.95 134.91L142.58 114.71Q145.67 112.18 146.91 115.98L154.02 137.85Q155.25 141.66 152.27 144.32L143.54 152.12Q140.56 154.78 137.24 152.54Z" fill="url(#pk)" stroke="#fff" stroke-width="1"/>
<path d="M142.63 156.18Q140.56 154.78 142.42 153.12L153.39 143.32Q155.25 141.66 156.02 144.04L164.57 170.34Q164.83 171.14 165.53 171.62L165.56 171.64Q166.26 172.12 165.56 171.64Z" fill="url(#pk)" stroke="#fff" stroke-width="1"/>
<path d="M193.4 69.43Q192.16 65.63 196.16 65.72L242.69 66.73Q246.69 66.82 245.5 70.64L238.98 91.55Q237.79 95.37 233.8 95.23L205.4 94.21Q201.4 94.07 200.17 90.26Z" fill="url(#pk)" stroke="#fff" stroke-width="1"/>
<path d="M202.64 97.87Q201.4 94.07 205.4 94.21L233.8 95.23Q237.79 95.37 236.6 99.19L229.76 121.15Q228.57 124.97 224.59 124.65L214.97 123.87Q210.98 123.55 209.75 119.75Z" fill="url(#pk)" stroke="#fff" stroke-width="1"/>
<path d="M211.76 125.93Q210.98 123.55 213.48 123.75L226.08 124.77Q228.57 124.97 227.83 127.35L219.64 153.66Q219.36 154.56 219.94 153.82L219.97 153.78Q220.56 153.03 220.27 152.13Z" fill="url(#pk)" stroke="#fff" stroke-width="1"/>
<path d="M301.44 88.07Q302.63 84.25 305.72 86.79L343.84 118.18Q346.93 120.73 343.61 122.96L325.46 135.21Q322.14 137.45 319.12 134.82L296.76 115.42Q293.74 112.8 294.93 108.98Z" fill="url(#pk)" stroke="#fff" stroke-width="1"/>
<path d="M292.55 116.61Q293.74 112.8 296.76 115.42L319.12 134.82Q322.14 137.45 318.82 139.68L299.76 152.54Q296.44 154.78 293.67 151.9L287.3 145.28Q284.52 142.39 285.71 138.57Z" fill="url(#pk)" stroke="#fff" stroke-width="1"/>
<path d="M283.78 144.78Q284.52 142.39 286.26 144.19L294.71 152.98Q296.44 154.78 294.37 156.18L272.59 170.87Q270.74 172.12 272.97 172.06L273.08 172.05Q275.31 171.99 275.97 169.86Z" fill="url(#pk)" stroke="#fff" stroke-width="1"/>
<path d="M376.38 171.55Q379.7 169.31 380.88 173.13L392.72 211.38Q393.9 215.2 389.9 215.2L368 215.2Q364 215.2 362.81 211.38L356.1 189.85Q354.91 186.03 358.23 183.79Z" fill="url(#pk)" stroke="#fff" stroke-width="1"/>
<path d="M351.59 188.27Q354.91 186.03 356.1 189.85L362.81 211.38Q364 215.2 360 215.2L337 215.2Q333 215.2 331.78 211.39L330.43 207.17Q329.21 203.36 332.53 201.13Z" fill="url(#pk)" stroke="#fff" stroke-width="1"/>
<path d="M327.14 204.76Q329.21 203.36 329.97 205.74L332.24 212.82Q333 215.2 330.5 215.2L304.5 215.2Q302 215.2 302.66 217.61L302.85 218.29Q303.51 220.7 305.58 219.3Z" fill="url(#pk)" stroke="#fff" stroke-width="1"/>
<path d="M137.5 262L137.5 222L135.61 219.35L165.8 174.58L167.33 171.38L218.68 154.69L221.25 156.2L272.81 172.26L271.2 174.58L301.39 219.35L275.5 222L275.5 262L300.5 262L300.5 222L276.75 227.53L254.39 194.37L258.69 194.05L220.5 182.15L219.75 180.63L181.71 192.99L182.61 194.37L160.25 227.53L162.5 222L162.5 262Z" fill="#6fc0ec"/>
<ellipse cx="218.5" cy="232" rx="50" ry="44" fill="#fbf7cf"/>
<path d="M141.82 224.45Q134.36 219.41 139.39 211.95L160.36 180.86Q165.39 173.4 172.85 178.43L180.32 183.47Q187.78 188.5 182.74 195.96L161.77 227.05Q156.74 234.51 149.28 229.48Z" fill="#6fc0ec" stroke="#fff" stroke-width="1.1"/>
<path d="M218.16 163.62Q220.84 155.03 229.43 157.7L265.23 168.85Q273.83 171.53 271.15 180.12L268.47 188.72Q265.8 197.31 257.2 194.63L221.4 183.48Q212.81 180.8 215.48 172.21Z" fill="#6fc0ec" stroke="#fff" stroke-width="1.1"/>
<path d="M169.09 179.22Q166.31 170.66 174.86 167.88L210.53 156.29Q219.09 153.51 221.87 162.07L224.65 170.63Q227.43 179.19 218.87 181.97L183.21 193.56Q174.65 196.34 171.87 187.78Z" fill="#6fc0ec" stroke="#fff" stroke-width="1.1"/>
<path d="M264.15 178.43Q271.61 173.4 276.64 180.86L297.61 211.95Q302.64 219.41 295.18 224.45L287.72 229.48Q280.26 234.51 275.23 227.05L254.26 195.96Q249.22 188.5 256.68 183.47Z" fill="#6fc0ec" stroke="#fff" stroke-width="1.1"/>
<rect x="136.1" y="216" width="28.3" height="58.4" rx="8.5" fill="#6fc0ec" stroke="#fff" stroke-width="1"/>
<rect x="273.7" y="216" width="28.3" height="58.4" rx="8.5" fill="#6fc0ec" stroke="#fff" stroke-width="1"/>
<rect x="41.8" y="216" width="27.8" height="58.4" rx="8.5" fill="#d8241f" stroke="#fff" stroke-width="1"/>
<rect x="72.9" y="216" width="27.8" height="58.4" rx="8.5" fill="#d8241f" stroke="#fff" stroke-width="1"/>
<rect x="104.4" y="216" width="27.8" height="58.4" rx="8.5" fill="#d8241f" stroke="#fff" stroke-width="1"/>
<path d="M64.93 174.09Q57.47 169.06 62.5 161.6L84.87 128.44Q89.9 120.98 97.36 126.01L106.32 132.05Q113.78 137.08 108.75 144.54L86.38 177.7Q81.35 185.16 73.89 180.13Z" fill="#d8241f" stroke="#fff" stroke-width="1.2"/>
<path d="M90.63 191.43Q83.17 186.39 88.2 178.93L110.57 145.77Q115.6 138.31 123.06 143.34L132.02 149.38Q139.48 154.42 134.45 161.88L112.08 195.04Q107.05 202.5 99.59 197.47Z" fill="#d8241f" stroke="#fff" stroke-width="1.2"/>
<path d="M116.33 208.76Q108.87 203.73 113.9 196.27L136.27 163.11Q141.3 155.65 148.77 160.68L157.72 166.72Q165.18 171.75 160.15 179.21L137.78 212.37Q132.75 219.83 125.29 214.8Z" fill="#d8241f" stroke="#fff" stroke-width="1.2"/>
<path d="M139.5 92.21Q136.72 83.65 145.28 80.87L183.32 68.5Q191.88 65.72 194.66 74.28L198 84.55Q200.78 93.11 192.22 95.89L154.18 108.26Q145.62 111.04 142.84 102.48Z" fill="#d8241f" stroke="#fff" stroke-width="1.2"/>
<path d="M149.08 121.69Q146.3 113.13 154.86 110.35L192.9 97.99Q201.46 95.21 204.24 103.77L207.58 114.04Q210.36 122.6 201.8 125.38L163.76 137.74Q155.2 140.52 152.42 131.96Z" fill="#d8241f" stroke="#fff" stroke-width="1.2"/>
<path d="M158.66 151.17Q155.88 142.61 164.44 139.83L202.48 127.47Q211.04 124.69 213.82 133.25L217.16 143.52Q219.94 152.08 211.38 154.86L173.34 167.22Q164.78 170 162 161.44Z" fill="#d8241f" stroke="#fff" stroke-width="1.2"/>
<path d="M244.3 75.5Q246.97 66.91 255.56 69.59L293.75 81.48Q302.35 84.16 299.67 92.75L296.46 103.06Q293.78 111.66 285.19 108.98L247 97.08Q238.41 94.41 241.08 85.82Z" fill="#d8241f" stroke="#fff" stroke-width="1.2"/>
<path d="M235.08 105.1Q237.75 96.51 246.35 99.19L284.54 111.08Q293.13 113.76 290.45 122.35L287.24 132.66Q284.56 141.25 275.97 138.58L237.78 126.68Q229.19 124.01 231.86 115.41Z" fill="#d8241f" stroke="#fff" stroke-width="1.2"/>
<path d="M225.86 134.7Q228.53 126.11 237.13 128.78L275.32 140.68Q283.91 143.35 281.23 151.95L278.02 162.26Q275.35 170.85 266.75 168.17L228.56 156.28Q219.97 153.6 222.65 145.01Z" fill="#d8241f" stroke="#fff" stroke-width="1.2"/>
<path d="M339.64 126.01Q347.1 120.98 352.13 128.44L374.5 161.6Q379.53 169.06 372.07 174.09L363.11 180.13Q355.65 185.16 350.62 177.7L328.25 144.54Q323.22 137.08 330.68 132.05Z" fill="#d8241f" stroke="#fff" stroke-width="1.2"/>
<path d="M313.94 143.34Q321.4 138.31 326.43 145.77L348.8 178.93Q353.83 186.39 346.37 191.43L337.41 197.47Q329.95 202.5 324.92 195.04L302.55 161.88Q297.52 154.42 304.98 149.38Z" fill="#d8241f" stroke="#fff" stroke-width="1.2"/>
<path d="M288.23 160.68Q295.7 155.65 300.73 163.11L323.1 196.27Q328.13 203.73 320.67 208.76L311.71 214.8Q304.25 219.83 299.22 212.37L276.85 179.21Q271.82 171.75 279.28 166.72Z" fill="#d8241f" stroke="#fff" stroke-width="1.2"/>
<rect x="367.1" y="216" width="27.8" height="58.4" rx="8.5" fill="#d8241f" stroke="#fff" stroke-width="1"/>
<rect x="335.4" y="216" width="27.8" height="58.4" rx="8.5" fill="#d8241f" stroke="#fff" stroke-width="1"/>
<rect x="304.2" y="216" width="27.8" height="58.4" rx="8.5" fill="#d8241f" stroke="#fff" stroke-width="1"/>
<circle cx="189" cy="221" r="23.8" fill="#93ab9d" stroke="#fff" stroke-width="1.4"/>
<circle cx="247.3" cy="221.3" r="23.8" fill="#93ab9d" stroke="#fff" stroke-width="1.4"/>
<circle cx="191.3" cy="245.5" r="25.6" fill="#93ab9d" stroke="#fff" stroke-width="1.4"/>
<circle cx="246.6" cy="245.5" r="25.6" fill="#93ab9d" stroke="#fff" stroke-width="1.4"/>
<circle cx="216.5" cy="208.8" r="24" fill="#93ab9d" stroke="#fff" stroke-width="1.4"/>
<circle cx="219.5" cy="256.5" r="24.5" fill="#93ab9d" stroke="#fff" stroke-width="1.4"/>
</g>
<g id="greens">
<ellipse cx="219.2" cy="282.6" rx="32.6" ry="22" fill="#7cbd29" stroke="#fff" stroke-width="1.6"/>
<ellipse cx="218" cy="292.4" rx="33" ry="21.7" fill="#80c22a" stroke="#fff" stroke-width="1.8"/>
<ellipse cx="218.6" cy="333.5" rx="31" ry="19.6" fill="#6d6a35" opacity=".35"/>
<ellipse cx="218" cy="332.3" rx="30.8" ry="19.4" fill="#93ae6a" stroke="#fff" stroke-width="1.7"/>
</g>
<g id="panelB">
<rect x="683.8" y="70.8" width="65" height="31.8" rx="8.5" fill="#d8241f"/>
<rect x="685.2" y="133.8" width="64.6" height="32.4" rx="8" fill="#6fc0ec"/>
<ellipse cx="716.7" cy="217" rx="31" ry="29.7" fill="#93ab9d"/>
<ellipse cx="716" cy="317" rx="36.6" ry="22" fill="#80c22a"/>
<ellipse cx="715.9" cy="283" rx="37" ry="22.6" fill="#80c22a" stroke="#fff" stroke-width="1.5"/>
<ellipse cx="715.6" cy="354.4" rx="29.6" ry="17" fill="#9db36f"/>
<ellipse cx="626.2" cy="369.6" rx="20.8" ry="16" fill="#44557c"/>
<ellipse cx="671" cy="444" rx="21" ry="16.3" fill="#44557c"/>
<ellipse cx="817.9" cy="370" rx="20.9" ry="16.3" fill="#9b846b"/>
<ellipse cx="764.6" cy="444.7" rx="20.8" ry="16.3" fill="#9b846b"/>
<path d="M647.6 372 C666 373.3 680.5 378 684.6 388 C686.6 393 686.4 401 685.4 409.2 L688.2 409.6 L675.2 424.2 L674.8 407.4 L681.2 408.5 C682.2 401 681.8 395 680.2 390.8 C676.8 382 664 376.6 647.6 373.6 Z" fill="url(#gb)"/>
<path d="M670 378.2 C678 381.6 688 381 692.2 375.5" fill="none" stroke="#efeccb" stroke-width="2.6" stroke-linecap="round"/>
<path d="M697.2 367.6 L695.6 380 L692.6 376.2 L688.2 375 Z" fill="#4d6494"/>
<path d="M757.2 425.6 C751.5 416 748.6 409 749.2 402.5 C750.4 393 760 387.2 777.6 382.4 L776.6 378.8 L795.6 380 L779.4 388.4 L778.4 385.2 C763 389.2 753.6 394.6 752.4 403.4 C751.8 409.5 754.2 416.5 758.6 425 Z" fill="url(#gt)"/>
<path d="M736.4 380.8 C740 385.6 746.6 388.2 754.4 388.2 L754.2 385.8 L765.4 388.8 L754.6 392.2 L754.5 390.2 C746 390.4 739 387.2 735.6 381.6 Z" fill="url(#gt2)"/>
<circle cx="679.4" cy="368.3" r="10" fill="url(#eg)"/>
<circle cx="749.5" cy="373.8" r="10" fill="url(#eg)"/>
<path d="M721 36.5L719.72 37.38L718.62 38.28L717.86 39.2L717.56 40.14L717.74 41.12L718.37 42.13L719.34 43.16L720.5 44.2L721.66 45.25L722.63 46.28L723.26 47.28L723.44 48.26L723.14 49.21L722.38 50.13L721.28 51.02L720 51.91L718.71 52.79L717.61 53.69L716.86 54.6L716.55 55.55L716.73 56.53L717.36 57.54L718.34 58.57L719.5 59.61L720.66 60.65L721.63 61.68L722.26 62.69L722.44 63.67L722.13 64.62L721.38 65.53L720.16 66.42L718.99 67.31L718.08 68.22L717.51 69.15L717.33 70.11L717.47 71.08L717.8 72.07L718.17 73.06L718.43 74.05L718.49 75.02" fill="none" stroke="url(#g18)" stroke-width="2.6" stroke-linecap="round" stroke-linejoin="round"/><path d="M718 82.6L713.38 72.78L718.53 74.45L723.86 73.46Z" fill="#2b2b24"/>
<path d="M720 101L718.84 101.82L717.9 102.65L717.33 103.5L717.25 104.38L717.65 105.29L718.45 106.22L719.48 107.17L720.55 108.11L721.44 109.05L721.96 109.96L722.02 110.85L721.59 111.71L720.74 112.55L719.62 113.37L718.44 114.19L717.42 115.01L716.73 115.86L716.5 116.73L716.77 117.63L717.47 118.56L718.45 119.5L719.54 120.45L720.5 121.39L721.14 122.31L721.34 123.21L721.04 124.07L720.29 124.92L719.23 125.74L718.05 126.56L716.96 127.38L716.39 128.23L716.31 129.11L716.65 130.02L717.22 130.94L717.83 131.86L718.32 132.77L718.55 133.67L718.52 134.55L718.29 135.42L717.98 136.29" fill="none" stroke="url(#g19)" stroke-width="2.4" stroke-linecap="round" stroke-linejoin="round"/><path d="M717.6 143L713.89 134.37L718.01 135.79L722.27 134.85Z" fill="#2b2b24"/>
<path d="M720.1 161L718.93 161.82L717.98 162.65L717.4 163.51L717.31 164.4L717.7 165.32L718.48 166.27L719.51 167.24L720.57 168.2L721.44 169.16L721.96 170.09L722 170.99L721.56 171.86L720.7 172.7L719.57 173.52L718.38 174.33L717.35 175.16L716.65 176.01L716.41 176.89L716.67 177.8L717.35 178.74L718.33 179.71L719.4 180.68L720.35 181.64L720.98 182.58L721.17 183.49L720.86 184.36L720.11 185.21L719.04 186.03L717.84 186.85L716.74 187.67L716.16 188.52L716.08 189.41L716.4 190.33L716.96 191.27L717.56 192.21L718.03 193.13L718.26 194.05L718.22 194.94L717.98 195.82L717.66 196.7" fill="none" stroke="url(#g20)" stroke-width="2.4" stroke-linecap="round" stroke-linejoin="round"/><path d="M717.2 203.4L713.58 194.73L717.69 196.19L721.96 195.31Z" fill="#2b2b24"/>
<path d="M714.5 243.5L713.73 244.23L713.05 244.96L712.55 245.68L712.3 246.38L712.33 247.07L712.63 247.75L713.19 248.4L713.93 249.05L714.78 249.69L715.63 250.34L716.4 250.98L716.99 251.64L717.35 252.31L717.42 252.99L717.22 253.7L716.76 254.41L716.11 255.14L715.35 255.87L714.57 256.6L713.87 257.33L713.34 258.05L713.04 258.76L713.01 259.45L713.27 260.13L713.78 260.79L714.49 261.44L715.33 262.08L716.19 262.72L716.98 263.37L717.61 264.02L717.78 264.7L717.66 265.4L717.33 266.11L716.87 266.82L716.41 267.54L716.02 268.25L715.79 268.96L715.73 269.65L715.83 270.33L716.06 271.01" fill="none" stroke="url(#g21)" stroke-width="2.3" stroke-linecap="round" stroke-linejoin="round"/><path d="M716.4 277L712.08 269.73L716.03 270.56L719.87 269.29Z" fill="#2b2b24"/>
<path d="M716.5 293.5L716.09 293.81L715.71 294.12L715.35 294.43L715.04 294.74L714.79 295.05L714.62 295.36L714.52 295.67L714.5 295.98L714.57 296.29L714.72 296.6L714.94 296.91L715.23 297.22L715.56 297.53L715.94 297.84L716.34 298.15L716.75 298.46L717.15 298.77L717.52 299.08L717.85 299.39L718.12 299.7L718.32 300.01L718.45 300.32L718.5 300.63L718.46 300.94L718.35 301.25L718.15 301.56L717.89 301.87L717.57 302.18L717.21 302.49L716.81 302.8L716.42 303.11L716.1 303.42L715.88 303.73L715.76 304.04L715.74 304.35L715.8 304.66L715.93 304.97L716.1 305.28L716.3 305.59L716.5 305.9" fill="none" stroke="url(#g22)" stroke-width="2.2" stroke-linecap="round" stroke-linejoin="round"/><path d="M716.5 311.5L712.9 304.5L716.5 305.48L720.1 304.5Z" fill="#2b2b24"/>
<path d="M717 327.5L716.59 327.81L716.21 328.12L715.85 328.43L715.54 328.74L715.29 329.05L715.12 329.36L715.02 329.67L715 329.98L715.07 330.29L715.22 330.6L715.44 330.91L715.73 331.22L716.06 331.53L716.44 331.84L716.84 332.15L717.25 332.46L717.65 332.77L718.02 333.08L718.35 333.39L718.62 333.7L718.82 334.01L718.95 334.32L719 334.63L718.96 334.94L718.85 335.25L718.65 335.56L718.39 335.87L718.07 336.18L717.71 336.49L717.31 336.8L716.92 337.11L716.6 337.42L716.38 337.73L716.26 338.04L716.24 338.35L716.3 338.66L716.43 338.97L716.6 339.28L716.8 339.59L717 339.9" fill="none" stroke="url(#g23)" stroke-width="2.2" stroke-linecap="round" stroke-linejoin="round"/><path d="M717 345.5L713.4 338.5L717 339.48L720.6 338.5Z" fill="#2b2b24"/>
</g>
<g id="arrowsA">
<path d="M215.5 36L214.05 36.84L212.95 37.71L212.45 38.61L212.67 39.54L213.54 40.52L214.83 41.52L216.2 42.52L217.32 43.51L217.88 44.46L217.74 45.38L216.91 46.26L215.6 47.11L214.11 47.96L212.79 48.81L211.97 49.69L211.83 50.61L212.39 51.56L213.5 52.55L214.88 53.55L216.17 54.55L217.03 55.53L217.25 56.46L216.75 57.36L215.65 58.23L214.2 59.07L212.76 59.91L211.66 60.78L211.16 61.68L211.38 62.61L212.24 63.59L213.57 64.59L214.69 65.58L215.35 66.54L215.44 67.47L215.06 68.38L214.43 69.27L213.8 70.16L213.39 71.06L213.28 71.98L213.43 72.91" fill="none" stroke="url(#g1)" stroke-width="3.1" stroke-linecap="round" stroke-linejoin="round"/><path d="M213 80.5L208.79 70.75L213.46 72.34L218.28 71.28Z" fill="#22221c"/>
<path d="M216.5 88.5L216.32 89.84L216.3 90.99L216.56 91.8L217.18 92.21L218.13 92.22L219.33 91.94L220.64 91.54L221.9 91.2L222.95 91.1L223.68 91.37L224.06 92.05L224.13 93.1L223.98 94.4L223.78 95.76L223.69 96.99L223.84 97.93L224.34 98.47L225.19 98.61L226.32 98.41L227.61 98.03L228.91 97.64L230.04 97.44L230.89 97.58L231.39 98.13L231.54 99.07L231.45 100.3L231.25 101.66L231.1 102.95L231.17 104.01L231.55 104.69L232.42 104.79L233.52 104.64L234.66 104.43L235.7 104.34L236.53 104.5L237.13 104.93L237.54 105.56L237.88 106.29L238.25 106.99L238.73 107.55" fill="none" stroke="url(#g2)" stroke-width="3.1" stroke-linecap="round" stroke-linejoin="round"/><path d="M244.5 112.5L234.2 109.92L238.3 107.18L240.38 102.71Z" fill="#22221c"/>
<path d="M251.5 111L252.71 111.57L253.79 111.93L254.64 111.92L255.19 111.46L255.46 110.56L255.53 109.34L255.51 107.97L255.53 106.68L255.72 105.66L256.18 105.04L256.93 104.89L257.94 105.14L259.12 105.66L260.35 106.26L261.49 106.71L262.42 106.84L263.07 106.53L263.43 105.77L263.56 104.64L263.55 103.3L263.54 101.96L263.66 100.82L264.03 100.06L264.68 99.75L265.61 99.88L266.75 100.34L267.98 100.93L269.16 101.45L270.17 101.71L270.92 101.55L271.25 100.75L271.41 99.67L271.53 98.52L271.73 97.51L272.11 96.77L272.67 96.33L273.39 96.13L274.17 96.02L274.93 95.88L275.6 95.59" fill="none" stroke="url(#g3)" stroke-width="3.1" stroke-linecap="round" stroke-linejoin="round"/><path d="M282 91.5L276.55 100.62L275.12 95.9L271.44 92.62Z" fill="#22221c"/>
<path d="M292 96.5L291.99 97.85L292.12 99L292.49 99.78L293.15 100.11L294.11 100.01L295.27 99.59L296.53 99.03L297.74 98.54L298.78 98.31L299.54 98.49L300.01 99.13L300.21 100.17L300.23 101.47L300.21 102.85L300.27 104.09L300.55 105.01L301.12 105.49L301.98 105.53L303.09 105.19L304.33 104.65L305.57 104.11L306.68 103.78L307.54 103.82L308.11 104.3L308.39 105.22L308.46 106.46L308.43 107.83L308.45 109.14L308.65 110.18L309.12 110.82L310.01 110.81L311.08 110.53L312.19 110.18L313.22 109.98L314.07 110.03L314.72 110.38L315.22 110.97L315.65 111.66L316.11 112.31L316.66 112.81" fill="none" stroke="url(#g4)" stroke-width="3.1" stroke-linecap="round" stroke-linejoin="round"/><path d="M323 117L312.46 115.72L316.19 112.49L317.7 107.8Z" fill="#22221c"/>
<path d="M326.5 123L326.14 124.28L325.96 125.39L326.1 126.21L326.64 126.65L327.56 126.75L328.76 126.59L330.09 126.31L331.35 126.09L332.38 126.08L333.05 126.41L333.32 127.1L333.23 128.13L332.91 129.37L332.53 130.67L332.27 131.85L332.29 132.78L332.69 133.35L333.49 133.56L334.62 133.47L335.92 133.21L337.23 132.95L338.35 132.86L339.15 133.06L339.55 133.64L339.58 134.56L339.32 135.75L338.93 137.05L338.61 138.29L338.53 139.31L338.8 140.01L339.63 140.18L340.71 140.13L341.85 140.03L342.86 140.04L343.64 140.26L344.16 140.73L344.48 141.38L344.7 142.12L344.96 142.83L345.35 143.42" fill="none" stroke="url(#g5)" stroke-width="3.1" stroke-linecap="round" stroke-linejoin="round"/><path d="M350.5 149L340.57 145.24L344.96 143L347.55 138.8Z" fill="#22221c"/>
<path d="M336 150.5L335.49 149.25L334.93 148.24L334.29 147.66L333.54 147.61L332.7 148.07L331.79 148.91L330.85 149.91L329.92 150.83L329.05 151.43L328.27 151.56L327.6 151.16L327.01 150.27L326.49 149.07L325.98 147.79L325.44 146.68L324.83 145.94L324.12 145.71L323.31 146.01L322.42 146.74L321.48 147.72L320.54 148.69L319.65 149.42L318.84 149.72L318.13 149.49L317.52 148.76L316.98 147.64L316.47 146.36L315.95 145.16L315.37 144.28L314.69 143.87L313.87 144.22L312.99 144.89L312.1 145.64L311.23 146.22L310.43 146.5L309.69 146.42L309 146.08L308.34 145.61L307.67 145.18L306.96 144.93" fill="none" stroke="url(#g6)" stroke-width="3.1" stroke-linecap="round" stroke-linejoin="round"/><path d="M299.5 143.5L309.72 140.62L307.52 145.04L307.94 149.95Z" fill="#22221c"/>
<path d="M291 142.5L290.11 141.47L289.26 140.69L288.46 140.35L287.73 140.54L287.08 141.25L286.48 142.33L285.9 143.58L285.3 144.75L284.67 145.6L283.97 145.97L283.19 145.8L282.36 145.15L281.48 144.18L280.58 143.13L279.71 142.24L278.89 141.74L278.15 141.75L277.47 142.29L276.85 143.27L276.27 144.49L275.68 145.72L275.06 146.69L274.39 147.24L273.64 147.25L272.82 146.74L271.95 145.85L271.06 144.8L270.18 143.83L269.34 143.18L268.56 143.01L267.89 143.6L267.27 144.52L266.65 145.51L266.01 146.34L265.33 146.86L264.61 147.03L263.84 146.92L263.06 146.68L262.28 146.5L261.53 146.48" fill="none" stroke="url(#g7)" stroke-width="3.1" stroke-linecap="round" stroke-linejoin="round"/><path d="M254 147.5L262.78 141.52L262.1 146.41L264.05 150.93Z" fill="#22221c"/>
<path d="M239 144L238.35 142.82L237.69 141.88L237 141.39L236.27 141.43L235.51 141.99L234.72 142.93L233.91 144.04L233.12 145.07L232.34 145.78L231.6 146L230.9 145.68L230.22 144.87L229.58 143.75L228.93 142.54L228.28 141.49L227.6 140.84L226.88 140.69L226.13 141.09L225.34 141.93L224.54 143.01L223.74 144.09L222.96 144.93L222.2 145.32L221.49 145.18L220.81 144.53L220.15 143.48L219.51 142.27L218.86 141.15L218.19 140.34L217.48 140.02L216.73 140.46L215.95 141.24L215.16 142.09L214.39 142.78L213.64 143.15L212.91 143.17L212.2 142.91L211.5 142.52L210.8 142.18L210.08 142.02" fill="none" stroke="url(#g8)" stroke-width="3.1" stroke-linecap="round" stroke-linejoin="round"/><path d="M202.5 141.5L212.3 137.41L210.65 142.06L211.65 146.89Z" fill="#22221c"/>
<path d="M195.5 146L194.53 146.53L193.71 147.07L193.16 147.6L192.96 148.15L193.14 148.7L193.68 149.26L194.48 149.82L195.43 150.38L196.37 150.94L197.17 151.51L197.71 152.06L197.89 152.61L197.69 153.16L197.14 153.7L196.32 154.23L195.35 154.76L194.39 155.29L193.57 155.83L193.01 156.36L192.81 156.91L193 157.46L193.53 158.02L194.33 158.58L195.28 159.14L196.22 159.7L197.03 160.27L197.56 160.82L197.74 161.37L197.54 161.92L196.99 162.46L196.07 162.99L195.2 163.52L194.52 164.06L194.12 164.6L194.02 165.14L194.17 165.69L194.46 166.25L194.79 166.8L195.04 167.35L195.13 167.9" fill="none" stroke="url(#g9)" stroke-width="3.1" stroke-linecap="round" stroke-linejoin="round"/><path d="M195 175.5L190.41 165.92L195.14 167.33L199.91 166.08Z" fill="#22221c"/>
<path d="M189 179.6L187.99 179.12L187.05 178.75L186.26 178.62L185.66 178.78L185.27 179.26L185.07 180.03L185.01 181.03L185.04 182.16L185.06 183.28L185 184.28L184.8 185.06L184.41 185.53L183.81 185.69L183.02 185.56L182.09 185.2L181.07 184.71L180.06 184.23L179.13 183.87L178.34 183.73L177.74 183.89L177.35 184.37L177.14 185.14L177.09 186.14L177.11 187.27L177.14 188.39L177.08 189.39L176.88 190.17L176.49 190.65L175.89 190.81L175.1 190.67L174.11 190.23L173.15 189.82L172.29 189.58L171.58 189.57L171.04 189.81L170.63 190.26L170.3 190.84L169.99 191.44L169.63 191.98L169.19 192.38" fill="none" stroke="url(#g10)" stroke-width="3.1" stroke-linecap="round" stroke-linejoin="round"/><path d="M162.8 196.5L168.21 187.36L169.67 192.07L173.36 195.34Z" fill="#22221c"/>
<path d="M160 204.2L158.94 204.55L158.03 204.94L157.37 205.38L157.06 205.9L157.13 206.5L157.53 207.17L158.2 207.91L159.01 208.68L159.82 209.44L160.49 210.18L160.89 210.85L160.95 211.45L160.64 211.97L159.99 212.42L159.08 212.8L158.02 213.15L156.96 213.5L156.04 213.89L155.39 214.33L155.08 214.85L155.14 215.45L155.55 216.13L156.22 216.86L157.03 217.63L157.84 218.39L158.5 219.13L158.91 219.81L158.97 220.41L158.66 220.92L158.01 221.37L157 221.73L156.03 222.1L155.26 222.52L154.75 222.99L154.54 223.53L154.56 224.13L154.74 224.75L154.95 225.38L155.07 226L155.04 226.58" fill="none" stroke="url(#g11)" stroke-width="3.1" stroke-linecap="round" stroke-linejoin="round"/><path d="M153.4 234L150.82 223.7L155.17 226.02L160.09 225.75Z" fill="#22221c"/>
<path d="M155.4 238.2L155.67 239.29L155.98 240.24L156.37 240.94L156.87 241.3L157.49 241.3L158.21 240.96L159.02 240.37L159.87 239.64L160.72 238.9L161.53 238.31L162.26 237.97L162.87 237.97L163.37 238.33L163.77 239.03L164.08 239.98L164.35 241.07L164.61 242.16L164.92 243.11L165.32 243.81L165.82 244.17L166.44 244.17L167.16 243.83L167.97 243.24L168.82 242.51L169.67 241.77L170.48 241.18L171.2 240.85L171.82 240.84L172.32 241.2L172.71 241.9L172.99 242.94L173.29 243.94L173.65 244.76L174.08 245.31L174.62 245.58L175.22 245.61L175.87 245.5L176.54 245.36L177.18 245.29L177.76 245.38" fill="none" stroke="url(#g12)" stroke-width="3.1" stroke-linecap="round" stroke-linejoin="round"/><path d="M185 247.7L174.5 249.32L177.22 245.2L177.41 240.27Z" fill="#22221c"/>
<path d="M187.8 237.4L188.87 237.73L189.84 237.96L190.64 237.98L191.2 237.74L191.51 237.21L191.59 236.42L191.49 235.43L191.3 234.32L191.1 233.22L191.01 232.23L191.09 231.44L191.4 230.91L191.96 230.67L192.76 230.69L193.73 230.91L194.8 231.25L195.87 231.58L196.84 231.81L197.63 231.83L198.2 231.59L198.51 231.06L198.59 230.27L198.49 229.27L198.3 228.17L198.1 227.07L198 226.07L198.08 225.28L198.39 224.76L198.96 224.51L199.75 224.54L200.79 224.83L201.79 225.09L202.67 225.21L203.37 225.12L203.87 224.81L204.2 224.31L204.44 223.69L204.65 223.05L204.92 222.47L205.29 222.02" fill="none" stroke="url(#g13)" stroke-width="3.1" stroke-linecap="round" stroke-linejoin="round"/><path d="M211 217L207 226.84L204.86 222.39L200.73 219.71Z" fill="#22221c"/>
<path d="M219.8 215.9L219.63 217.01L219.55 218L219.65 218.79L219.97 219.31L220.53 219.54L221.33 219.5L222.3 219.26L223.36 218.9L224.42 218.54L225.39 218.3L226.18 218.26L226.75 218.49L227.07 219.01L227.17 219.8L227.09 220.79L226.92 221.9L226.74 223.01L226.67 224L226.76 224.79L227.08 225.31L227.65 225.54L228.44 225.5L229.41 225.26L230.47 224.9L231.54 224.54L232.5 224.3L233.3 224.26L233.86 224.49L234.19 225.01L234.28 225.8L234.14 226.87L234.03 227.9L234.04 228.79L234.24 229.46L234.62 229.91L235.17 230.17L235.81 230.31L236.47 230.42L237.08 230.6L237.59 230.9" fill="none" stroke="url(#g14)" stroke-width="3.1" stroke-linecap="round" stroke-linejoin="round"/><path d="M243.4 235.8L233.08 233.31L237.15 230.53L239.2 226.04Z" fill="#22221c"/>
<path d="M251 241.8L250.01 241.28L249.09 240.89L248.31 240.73L247.71 240.87L247.32 241.33L247.1 242.1L247.02 243.09L247.02 244.21L247.02 245.33L246.94 246.33L246.72 247.09L246.33 247.56L245.73 247.7L244.95 247.53L244.03 247.14L243.04 246.62L242.05 246.11L241.13 245.72L240.35 245.55L239.75 245.69L239.36 246.16L239.14 246.92L239.06 247.92L239.06 249.04L239.06 250.16L238.98 251.15L238.76 251.92L238.37 252.38L237.77 252.52L236.99 252.36L236.02 251.88L235.08 251.45L234.23 251.18L233.53 251.14L232.99 251.37L232.57 251.8L232.23 252.36L231.91 252.96L231.55 253.48L231.1 253.86" fill="none" stroke="url(#g15)" stroke-width="3.1" stroke-linecap="round" stroke-linejoin="round"/><path d="M224.6 257.8L230.26 248.81L231.59 253.57L235.19 256.94Z" fill="#22221c"/>
<path d="M219.3 266.5L218.29 267.01L217.43 267.54L216.84 268.09L216.6 268.67L216.73 269.29L217.22 269.93L217.97 270.6L218.87 271.29L219.77 271.97L220.53 272.64L221.02 273.29L221.15 273.9L220.91 274.48L220.32 275.03L219.46 275.56L218.45 276.07L217.44 276.59L216.58 277.11L215.99 277.66L215.75 278.24L215.88 278.86L216.37 279.5L217.12 280.17L218.02 280.86L218.92 281.54L219.68 282.21L220.16 282.86L220.3 283.47L220.06 284.05L219.47 284.6L218.51 285.12L217.6 285.64L216.88 286.18L216.44 286.75L216.29 287.34L216.39 287.95L216.64 288.57L216.93 289.2L217.13 289.82L217.17 290.43" fill="none" stroke="url(#g16)" stroke-width="3.1" stroke-linecap="round" stroke-linejoin="round"/><path d="M216.5 298L212.61 288.12L217.22 289.86L222.07 288.96Z" fill="#22221c"/>
<path d="M216.5 308.5L215.92 308.85L215.37 309.19L214.88 309.54L214.48 309.89L214.19 310.24L214.03 310.58L214.01 310.93L214.12 311.28L214.37 311.63L214.73 311.98L215.19 312.32L215.73 312.67L216.3 313.02L216.89 313.37L217.46 313.71L217.97 314.06L218.4 314.41L218.73 314.75L218.93 315.1L219 315.45L218.93 315.8L218.73 316.14L218.4 316.49L217.97 316.84L217.46 317.19L216.89 317.54L216.3 317.88L215.73 318.23L215.19 318.58L214.73 318.93L214.58 319.27L214.6 319.62L214.76 319.97L215.02 320.31L215.35 320.66L215.69 321.01L216.01 321.36L216.27 321.7L216.44 322.05L216.5 322.4" fill="none" stroke="url(#g17)" stroke-width="3.1" stroke-linecap="round" stroke-linejoin="round"/><path d="M216.5 330L211.75 320.5L216.5 321.83L221.25 320.5Z" fill="#22221c"/>
</g>
<g id="brackets">
<path d="M857.5 81.5H873.8V294.5H857.5M873.8 187.1H886.5" fill="none" stroke="#242424" stroke-width="2.6"/>
<path d="M857.5 379.3H873.8V439.3H857.5M873.8 408.3H886.5" fill="none" stroke="#242424" stroke-width="2.6"/>
<path d="M386.5 332.3H401V392.3H386.5M401 361.4H414" fill="none" stroke="#242424" stroke-width="2.6"/>
</g>
<g id="labels">
<text transform="translate(21.3,44.7) scale(.91,1)" font-family="Liberation Serif, serif" font-weight="700" font-size="26.2" fill="#231f20">A</text>
<text transform="translate(513.1,44.7) scale(.905,1)" font-family="Liberation Serif, serif" font-weight="700" font-size="26.4" fill="#231f20">B</text>
<text x="558.3" y="92.6" font-family="Liberation Sans, sans-serif" font-weight="700" font-size="16.5" text-anchor="start" fill="#1f1f1f" textLength="112.5" lengthAdjust="spacingAndGlyphs">Phycoerythrin</text>
<text x="572" y="157.8" font-family="Liberation Sans, sans-serif" font-weight="700" font-size="16.5" text-anchor="start" fill="#1f1f1f" textLength="99" lengthAdjust="spacingAndGlyphs">Phycocyanin</text>
<text x="539.3" y="223.9" font-family="Liberation Sans, sans-serif" font-weight="700" font-size="16.5" text-anchor="start" fill="#1f1f1f" textLength="132" lengthAdjust="spacingAndGlyphs">Allophycocyanin</text>
<text x="565" y="308.9" font-family="Liberation Sans, sans-serif" font-weight="700" font-size="16.5" text-anchor="start" fill="#1f1f1f" textLength="107" lengthAdjust="spacingAndGlyphs">Chlorophyll <tspan font-style="italic">a</tspan></text>
<text x="717.2" y="94.4" font-family="Liberation Sans, sans-serif" font-weight="700" font-size="15.4" text-anchor="middle" fill="#fff" textLength="54.3" lengthAdjust="spacingAndGlyphs" filter="url(#ts)">570 nm</text>
<text x="717.5" y="157.2" font-family="Liberation Sans, sans-serif" font-weight="700" font-size="15.4" text-anchor="middle" fill="#fff" textLength="54" lengthAdjust="spacingAndGlyphs" filter="url(#ts)">630 nm</text>
<text x="716.3" y="223.8" font-family="Liberation Sans, sans-serif" font-weight="700" font-size="15.3" text-anchor="middle" fill="#fff" textLength="53.5" lengthAdjust="spacingAndGlyphs" filter="url(#ts)">650 nm</text>
<text x="715.3" y="289.3" font-family="Liberation Sans, sans-serif" font-weight="700" font-size="15.4" text-anchor="middle" fill="#fff" textLength="54.3" lengthAdjust="spacingAndGlyphs" filter="url(#ts)">670 nm</text>
<text x="715.3" y="323.6" font-family="Liberation Sans, sans-serif" font-weight="700" font-size="15.4" text-anchor="middle" fill="#fff" textLength="54.3" lengthAdjust="spacingAndGlyphs" filter="url(#ts)">678 nm</text>
<text x="716.8" y="361.6" font-family="Liberation Sans, sans-serif" font-weight="700" font-size="18.2" text-anchor="middle" fill="#fff" textLength="42.4" lengthAdjust="spacingAndGlyphs" filter="url(#ts)">P680</text>
<text x="626.3" y="376.3" font-family="Liberation Sans, sans-serif" font-weight="700" font-size="17.8" text-anchor="middle" fill="#fff" filter="url(#ts)">D</text>
<text x="764.6" y="451.6" font-family="Liberation Sans, sans-serif" font-weight="700" font-size="17.8" text-anchor="middle" fill="#fff" filter="url(#ts)">A</text>
<text x="671.8" y="451.2" font-family="Liberation Sans, sans-serif" font-weight="700" font-size="17.8" text-anchor="middle" fill="#fff" filter="url(#ts)">D<tspan dy="-6.6" dx=".3" font-size="12">•</tspan><tspan dy="-.6" dx=".6" font-size="10.5">+</tspan></text>
<text x="818.4" y="376.8" font-family="Liberation Sans, sans-serif" font-weight="700" font-size="17.8" text-anchor="middle" fill="#fff" filter="url(#ts)">A<tspan dy="-7" dx=".2" font-size="12">•</tspan><tspan dy="-.8" dx=".5" font-size="10.5">−</tspan></text>
<text x="679.6" y="373" font-family="Liberation Sans, sans-serif" font-weight="700" font-size="15" text-anchor="middle" fill="#fff">e<tspan dy="-6.4" font-size="10">−</tspan></text>
<text x="749.8" y="378.6" font-family="Liberation Sans, sans-serif" font-weight="700" font-size="15" text-anchor="middle" fill="#fff">e<tspan dy="-6.4" font-size="10">−</tspan></text>
<text x="947.7" y="183.5" font-family="Liberation Serif, serif" font-weight="700" font-size="13.6" text-anchor="middle" fill="#231f20" textLength="114" lengthAdjust="spacingAndGlyphs">Antenna Pigments</text>
<text x="947.3" y="206" font-family="Liberation Serif, serif" font-weight="700" font-size="13.6" text-anchor="middle" fill="#231f20" textLength="99.5" lengthAdjust="spacingAndGlyphs">(Phycobilisome)</text>
<text x="947.7" y="402.6" font-family="Liberation Serif, serif" font-weight="700" font-size="13.6" text-anchor="middle" fill="#231f20" textLength="92" lengthAdjust="spacingAndGlyphs">Photosynthetic</text>
<text x="947.7" y="426.6" font-family="Liberation Serif, serif" font-weight="700" font-size="13.6" text-anchor="middle" fill="#231f20" textLength="98.5" lengthAdjust="spacingAndGlyphs">Reaction Center</text>
<text x="457" y="356.3" font-family="Liberation Serif, serif" font-weight="700" font-size="13.6" text-anchor="middle" fill="#231f20" textLength="60.5" lengthAdjust="spacingAndGlyphs">Thylakoid</text>
<text x="457.5" y="378.6" font-family="Liberation Serif, serif" font-weight="700" font-size="13.6" text-anchor="middle" fill="#231f20" textLength="66" lengthAdjust="spacingAndGlyphs">membrane</text>
</g>
</g>
</svg>
</body></html>
